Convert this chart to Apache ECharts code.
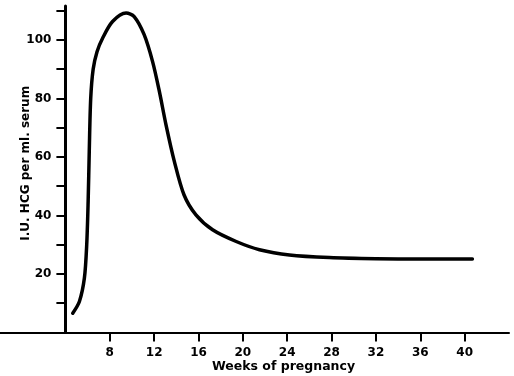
<!DOCTYPE html>
<html>
<head>
<meta charset="utf-8">
<script src="https://cdn.jsdelivr.net/npm/echarts@6/dist/echarts.min.js"></script>
<style>
  html, body { margin: 0; padding: 0; background: #fff; }
  #hcg_chart { width: 514px; height: 376px; }
</style>
</head>
<body>
<div id="hcg_chart"></div>
<script>
// weeks of pregnancy and HCG level (I.U. per ml serum)
const weeks = [4.66, 5.26, 5.71, 5.92, 6.05, 6.15, 6.28, 6.5, 6.85, 7.35, 8.25, 9.47, 10.2, 11.1, 11.86, 12.47, 13.07, 13.82, 14.7, 15.77, 17.27, 19.4, 21.5, 24.2, 27.8, 32, 36, 40.7];
const hcg = [6.6, 10.6, 18.6, 30, 45, 62, 80, 90, 96, 100.6, 106.3, 109.2, 108, 101.8, 92.6, 82.4, 71, 58.5, 47, 40.2, 35.1, 31.1, 28.3, 26.5, 25.6, 25.2, 25.1, 25.1];
const weekTicks = [8, 12, 16, 20, 24, 28, 32, 36, 40];

const chart = echarts.init(document.getElementById('hcg_chart'));

const font = 'DejaVu Sans';

const option = {
  backgroundColor: '#fff',
  animation: false,
  grid: {
    left: 0,
    right: 5,
    top: 6,
    bottom: 43.5,
    outerBoundsMode: 'none'
  },
  xAxis: {
    type: 'value',
    min: -1.9,
    max: 44,
    name: 'Weeks of pregnancy',
    nameLocation: 'middle',
    nameGap: 28,
    nameMoveOverlap: false,
    nameTextStyle: {
      color: '#000', fontFamily: font, fontWeight: 'bold', fontSize: 12.5,
      padding: [0, 0, 0, 58]
    },
    splitLine: { show: false },
    axisLine: { lineStyle: { color: '#000', width: 2 } },
    axisTick: {
      customValues: weekTicks,
      length: 9,
      lineStyle: { color: '#000', width: 2 }
    },
    axisLabel: {
      customValues: weekTicks,
      margin: 14,
      color: '#000',
      fontFamily: font,
      fontWeight: 'bold',
      fontSize: 12
    }
  },
  yAxis: {
    type: 'value',
    min: 0,
    max: 111.6,
    interval: 10,
    offset: -65.4,
    name: 'I.U. HCG per ml. serum',
    nameLocation: 'middle',
    nameGap: 34,
    nameMoveOverlap: false,
    nameTextStyle: {
      color: '#000', fontFamily: font, fontWeight: 'bold', fontSize: 12,
      padding: [0, 0, 0, 12]
    },
    splitLine: { show: false },
    axisLine: { show: true, lineStyle: { color: '#000', width: 3 } },
    axisTick: { length: 9, lineStyle: { color: '#000', width: 2 } },
    axisLabel: {
      margin: 14,
      color: '#000',
      fontFamily: font,
      fontWeight: 'bold',
      fontSize: 12,
      showMaxLabel: false,
      formatter: function (v) {
        return (v > 0 && v % 20 === 0) ? String(v) : '';
      }
    }
  },
  series: [
    {
      type: 'line',
      data: weeks.map((w, i) => [w, hcg[i]]),
      smooth: 0.3,
      showSymbol: false,
      lineStyle: { color: '#000', width: 3.5, cap: 'round', join: 'round' }
    }
  ]
};

chart.setOption(option);
</script>
</body>
</html>
